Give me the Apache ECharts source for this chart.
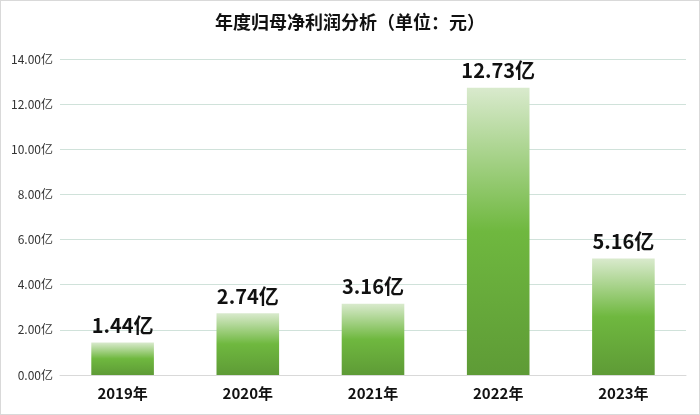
<!DOCTYPE html>
<html><head><meta charset="utf-8">
<script src="https://cdn.jsdelivr.net/npm/echarts@6/dist/echarts.min.js"></script>
<style>html,body{margin:0;padding:0;background:#fff}#c{width:700px;height:415px;box-sizing:border-box;border:1px solid #d9d9d9}</style>
</head><body><div id="c"></div>
<script>
const categories = ['2019年','2020年','2021年','2022年','2023年'];
const profits = [1.44, 2.74, 3.16, 12.73, 5.16];
const chart = echarts.init(document.getElementById('c'));
chart.setOption({
  animation:false,
  title:{
    text:'{b|年度归母净利润分析}{n|（单位：元）}',
    left:'center', top:7,
    textStyle:{rich:{
      b:{fontSize:18,fontWeight:'bold',color:'#111',fontFamily:'Noto Sans CJK SC'},
      n:{fontSize:18,color:'#111',fontFamily:'Noto Sans CJK SC'}
    }}
  },
  grid:{left:59,right:13,top:58,bottom:39},
  xAxis:{type:'category',data:categories,
    axisLine:{lineStyle:{color:'#d9d9d9'}},axisTick:{show:false},
    axisLabel:{fontSize:15,fontWeight:'bold',color:'#111',margin:11,fontFamily:'Noto Sans CJK SC'}},
  yAxis:{type:'value',min:0,max:14,interval:2,
    axisLine:{show:false},axisTick:{show:false},
    splitLine:{lineStyle:{color:'#d0e2da'}},
    axisLabel:{fontSize:12,color:'#333',margin:7,fontFamily:'Noto Sans CJK SC',
      formatter:v=>v.toFixed(2)+'亿'}},
  series:[{type:'bar',data:profits,barWidth:'50%',
    itemStyle:{color:new echarts.graphic.LinearGradient(0,0,0,1,[
      {offset:0,color:'#d9eacd'},{offset:0.5,color:'#6fb83f'},{offset:1,color:'#5e9b36'}])},
    label:{show:true,position:'top',distance:7,fontSize:20,fontWeight:'bold',color:'#111',
      fontFamily:'Noto Sans CJK SC',formatter:p=>p.value.toFixed(2)+'亿'}}]
});
</script></body></html>
